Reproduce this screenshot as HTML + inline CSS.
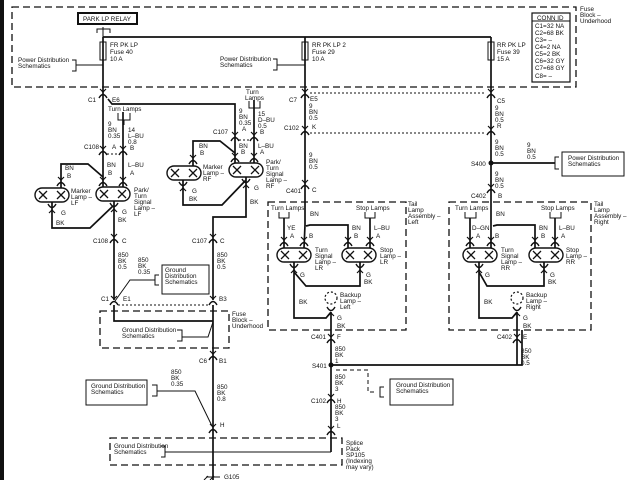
<!DOCTYPE html>
<html><head><meta charset="utf-8"><style>
html,body{margin:0;padding:0;background:#fff;}
svg{display:block;}
text{font-family:"Liberation Sans",sans-serif;font-size:6.3px;fill:#111;}
.w{stroke:#111;stroke-width:1.7;fill:none;}
.t{stroke:#111;stroke-width:1;fill:none;}
.d{stroke:#111;stroke-width:1.3;fill:none;stroke-dasharray:7,4;}
.dt{stroke:#111;stroke-width:1;fill:none;stroke-dasharray:2,2;}
</style></head><body>
<svg width="640" height="480" viewBox="0 0 640 480" xmlns="http://www.w3.org/2000/svg">
<defs>
<g id="cn"><path d="M-4,3 Q0,-4 4,3" stroke="#111" stroke-width="1.4" fill="none"/><path d="M-3,-6 L0,-3 L3,-6" stroke="#111" stroke-width="1.2" fill="none"/></g>
<g id="lamp"><rect x="0" y="0" width="34" height="14" rx="7" stroke="#111" stroke-width="1.4" fill="#fff"/><path d="M4,3 L12,11 M12,3 L4,11 M22,3 L30,11 M30,3 L22,11" stroke="#111" stroke-width="1.3"/></g>
</defs>
<rect x="0" y="0" width="4" height="480" fill="#111"/>
<path class="d" d="M12,7 H576 V87 H12 Z"/>
<rect x="78" y="13" width="59" height="11" fill="#fff" stroke="#111" stroke-width="2"/>
<text x="83" y="21">PARK LP RELAY</text>
<path class="t" d="M97,33 V29 H110 V33 M103,27 V37"/>
<path class="w" d="M103,37 H491"/>
<rect x="100" y="42" width="6" height="18" class="t"/>
<rect x="302" y="42" width="6" height="18" class="t"/>
<rect x="488" y="42" width="6" height="18" class="t"/>
<text x="110" y="47">FR PK LP</text><text x="110" y="54">Fuse 40</text><text x="110" y="61">10 A</text>
<text x="312" y="47">RR PK LP 2</text><text x="312" y="54">Fuse 29</text><text x="312" y="61">10 A</text>
<text x="497" y="47">RR PK LP</text><text x="497" y="54">Fuse 39</text><text x="497" y="61">15 A</text>
<text x="18" y="62">Power Distribution</text><text x="18" y="68">Schematics</text>
<path class="t" d="M72,60 H76 V71 H72 M76,65 H103"/>
<text x="220" y="61">Power Distribution</text><text x="220" y="67">Schematics</text>
<path class="t" d="M273,59 H277 V70 H273 M277,65 H305"/>
<rect x="532" y="13" width="38" height="69" fill="#fff" stroke="#111" stroke-width="1.2"/>
<path class="t" d="M532,21 H570"/>
<text x="537" y="20">CONN ID</text>
<text x="535" y="28">C1=32 NA</text><text x="535" y="35">C2=68 BK</text><text x="535" y="42">C3= –</text><text x="535" y="49">C4=2 NA</text><text x="535" y="56">C5=2 BK</text><text x="535" y="63">C6=32 GY</text><text x="535" y="70">C7=68 GY</text><text x="535" y="78">C8= –</text>
<text x="580" y="11">Fuse</text><text x="580" y="17">Block –</text><text x="580" y="23">Underhood</text>
<path class="w" d="M103,37 V190 M108,99 L112,104 H235 V165 M123,112 V188 M254,100 V165"/>
<use href="#cn" x="103" y="95"/><text x="88" y="102">C1</text><text x="112" y="102">E6</text>
<text x="108" y="111">Turn Lamps</text><path class="t" d="M118,113 V120 H130 V113 M124,120 V125"/>
<text x="108" y="126">9</text><text x="108" y="132">BN</text><text x="108" y="138">0.35</text><text x="128" y="132">14</text><text x="128" y="138">L–BU</text><text x="128" y="144">0.8</text><text x="130" y="150">B</text><text x="112" y="149">A</text>
<use href="#cn" x="103" y="152"/><use href="#cn" x="123" y="152"/><path class="dt" d="M107,154 H119"/>
<text x="84" y="149">C108</text>
<text x="107" y="167">BN</text><text x="108" y="175">B</text><text x="128" y="167">L–BU</text><text x="130" y="175">A</text>
<use href="#cn" x="103" y="183"/><use href="#cn" x="123" y="183"/>
<use href="#lamp" x="96" y="187"/>
<text x="134" y="192">Park/</text><text x="134" y="198">Turn</text><text x="134" y="204">Signal</text><text x="134" y="210">Lamp –</text><text x="134" y="216">LF</text>
<use href="#lamp" x="35" y="188"/><text x="71" y="193">Marker</text><text x="71" y="199">Lamp –</text><text x="71" y="205">LF</text>
<path class="w" d="M61,188 V164 H88 L103,177 M52,202 V228 H90 L113,206 M114,201 V300"/>
<use href="#cn" x="61" y="183"/><text x="65" y="170">BN</text><text x="67" y="178">B</text>
<use href="#cn" transform="translate(52,207) scale(1,-1)"/><text x="61" y="215">G</text><text x="56" y="225">BK</text>
<use href="#cn" transform="translate(114,206) scale(1,-1)"/><text x="122" y="214">G</text><text x="118" y="222">BK</text>
<use href="#cn" x="114" y="240"/><text x="93" y="243">C108</text><text x="122" y="243">C</text>
<text x="118" y="257">850</text><text x="118" y="263">BK</text><text x="118" y="269">0.5</text>
<text x="138" y="262">850</text><text x="138" y="268">BK</text><text x="138" y="274">0.35</text>
<text x="246" y="94">Turn</text><text x="245" y="100">Lamps</text><path class="t" d="M249,101 V108 H260 V101"/>
<text x="239" y="113">9</text><text x="239" y="119">BN</text><text x="239" y="125">0.35</text><text x="242" y="131">A</text>
<text x="258" y="116">15</text><text x="258" y="122">D–BU</text><text x="258" y="128">0.5</text><text x="260" y="134">B</text>
<use href="#cn" x="235" y="138"/><use href="#cn" x="254" y="138"/><path class="dt" d="M239,140 H250"/><text x="213" y="134">C107</text>
<text x="239" y="148">BN</text><text x="241" y="154">B</text><text x="258" y="148">L–BU</text><text x="260" y="154">A</text>
<use href="#cn" x="235" y="159"/><use href="#cn" x="254" y="159"/>
<use href="#lamp" x="229" y="163"/>
<text x="266" y="164">Park/</text><text x="266" y="170">Turn</text><text x="266" y="176">Signal</text><text x="266" y="182">Lamp –</text><text x="266" y="188">RF</text>
<use href="#lamp" x="167" y="166"/><text x="203" y="169">Marker</text><text x="203" y="175">Lamp –</text><text x="203" y="181">RF</text>
<path class="w" d="M193,166 V141 H220 L235,153 M183,180 V205 H222 L246,180 M246,177 V217 H213 V300"/>
<use href="#cn" x="193" y="161"/><text x="199" y="148">BN</text><text x="200" y="155">B</text>
<use href="#cn" transform="translate(183,185) scale(1,-1)"/><text x="192" y="193">G</text><text x="189" y="201">BK</text>
<use href="#cn" transform="translate(246,182) scale(1,-1)"/><text x="254" y="190">G</text><text x="250" y="204">BK</text>
<use href="#cn" x="213" y="240"/><text x="192" y="243">C107</text><text x="220" y="243">C</text>
<text x="217" y="257">850</text><text x="217" y="263">BK</text><text x="217" y="269">0.5</text>
<rect x="162" y="265" width="47" height="29" class="t"/>
<text x="165" y="272">Ground</text><text x="165" y="278">Distribution</text><text x="165" y="284">Schematics</text>
<path class="t" d="M159,275 H155 V285 H159 M155,280 H130 L115,301"/>
<use href="#cn" x="114" y="302"/><use href="#cn" x="213" y="302"/><path class="dt" d="M118,305 H209"/>
<text x="101" y="301">C1</text><text x="123" y="301">E1</text><text x="219" y="301">B3</text>
<path class="d" d="M100,311 H229 V348 H100 Z"/>
<path class="w" d="M114,305 V321 H213 M213,305 V480"/>
<text x="122" y="332">Ground Distribution</text><text x="122" y="338">Schematics</text>
<path class="t" d="M177,330 H182 V341 H177 M182,337 H208 L213,322"/>
<text x="232" y="316">Fuse</text><text x="232" y="322">Block –</text><text x="232" y="328">Underhood</text>
<use href="#cn" x="213" y="357"/><text x="199" y="363">C6</text><text x="219" y="363">B1</text>
<text x="171" y="374">850</text><text x="171" y="380">BK</text><text x="171" y="386">0.35</text>
<text x="217" y="389">850</text><text x="217" y="395">BK</text><text x="217" y="401">0.8</text>
<rect x="86" y="380" width="61" height="25" class="t"/>
<text x="91" y="388">Ground Distribution</text><text x="91" y="394">Schematics</text>
<path class="t" d="M152,385 H157 V396 H152 M157,391 H195 L212,426"/>
<use href="#cn" x="213" y="430"/><text x="220" y="427">H</text>
<path class="d" d="M110,438 H342 V465 H110 Z"/>
<text x="114" y="448">Ground Distribution</text><text x="114" y="454">Schematics</text>
<path class="t" d="M161,446 H165 V457 H161 M165,452 H331"/>
<text x="346" y="445">Splice</text><text x="346" y="451">Pack</text><text x="346" y="457">SP105</text><text x="346" y="463">(Indexing</text><text x="346" y="469">may vary)</text>
<path class="t" d="M206,477 H220 M204,480 L208,476 M210,480 L214,476"/><text x="224" y="479">G105</text>
<path class="w" d="M305,37 V202 M491,37 V202"/>
<use href="#cn" x="305" y="95"/><use href="#cn" x="491" y="95"/><path class="dt" d="M310,93 H486"/>
<text x="289" y="102">C7</text><text x="310" y="101">E5</text><text x="309" y="108">9</text><text x="309" y="114">BN</text><text x="309" y="120">0.5</text>
<text x="497" y="103">C5</text><text x="495" y="110">9</text><text x="495" y="116">BN</text><text x="495" y="122">0.5</text><text x="497" y="128">R</text>
<use href="#cn" x="305" y="132"/><use href="#cn" x="491" y="132"/><path class="dt" d="M310,133 H486"/>
<text x="284" y="130">C102</text><text x="312" y="129">K</text>
<text x="309" y="157">9</text><text x="309" y="163">BN</text><text x="309" y="169">0.5</text>
<use href="#cn" x="305" y="186"/><text x="286" y="193">C401</text><text x="312" y="192">C</text>
<text x="495" y="144">9</text><text x="495" y="150">BN</text><text x="495" y="156">0.5</text>
<circle cx="491" cy="163" r="2.5" fill="#111"/><text x="471" y="166">S400</text>
<path class="w" d="M491,163 H555"/><text x="527" y="147">9</text><text x="527" y="153">BN</text><text x="527" y="159">0.5</text>
<path class="t" d="M559,157 H555 V169 H559"/><rect x="562" y="152" width="62" height="24" class="t"/>
<text x="568" y="160">Power Distribution</text><text x="568" y="166">Schematics</text>
<text x="495" y="176">9</text><text x="495" y="182">BN</text><text x="495" y="188">0.5</text>
<use href="#cn" x="491" y="190"/><text x="471" y="198">C402</text><text x="498" y="198">B</text>
<path class="d" d="M268,202 H406 V330 H268 Z"/>
<text x="408" y="206">Tail</text><text x="408" y="212">Lamp</text><text x="408" y="218">Assembly –</text><text x="408" y="224">Left</text>
<text x="271" y="210">Turn Lamps</text><path class="t" d="M279,212 V218 H289 V212"/>
<text x="356" y="210">Stop Lamps</text><path class="t" d="M365,212 V218 H375 V212"/>
<text x="310" y="216">BN</text>
<path class="w" d="M284,218 V248 M305,202 V225 L304,248 M306,226 L310,225 H348 V248 M370,218 V248"/>
<text x="287" y="230">YE</text><text x="290" y="238">A</text><text x="309" y="238">B</text>
<text x="352" y="230">BN</text><text x="354" y="238">B</text><text x="374" y="230">L–BU</text><text x="376" y="238">A</text>
<use href="#cn" x="284" y="243"/><use href="#cn" x="304" y="243"/><use href="#cn" x="348" y="243"/><use href="#cn" x="370" y="243"/>
<use href="#lamp" x="277" y="248"/><use href="#lamp" x="342" y="248"/>
<text x="315" y="252">Turn</text><text x="315" y="258">Signal</text><text x="315" y="264">Lamp –</text><text x="315" y="270">LR</text>
<text x="380" y="252">Stop</text><text x="380" y="258">Lamp –</text><text x="380" y="264">LR</text>
<path class="w" d="M294,262 V318 H326 L331,312 M360,262 V286 H306 L294,272 M331,312 V452"/>
<use href="#cn" transform="translate(294,267) scale(1,-1)"/><use href="#cn" transform="translate(360,267) scale(1,-1)"/>
<text x="300" y="277">G</text><text x="366" y="277">G</text><text x="364" y="284">BK</text><text x="299" y="304">BK</text>
<circle cx="331" cy="298" r="6" fill="none" stroke="#111" stroke-width="1.2" stroke-dasharray="2,2"/>
<use href="#cn" transform="translate(331,310) scale(1,-1)"/>
<text x="340" y="297">Backup</text><text x="340" y="303">Lamp –</text><text x="340" y="309">Left</text>
<text x="337" y="320">G</text><text x="337" y="328">BK</text>
<use href="#cn" x="331" y="340"/><text x="311" y="339">C401</text><text x="337" y="339">F</text>
<text x="335" y="351">850</text><text x="335" y="357">BK</text><text x="335" y="363">1</text>
<circle cx="331" cy="365" r="2.5" fill="#111"/><text x="312" y="368">S401</text>
<path class="w" d="M331,365 H522 V330"/>
<path class="t" d="M336,370 H368 V392 H376" stroke-dasharray="4,3"/>
<path class="t" d="M384,387 H380 V397 H384"/><rect x="390" y="379" width="63" height="26" class="t"/>
<text x="396" y="387">Ground Distribution</text><text x="396" y="393">Schematics</text>
<text x="335" y="379">850</text><text x="335" y="385">BK</text><text x="335" y="391">3</text>
<use href="#cn" x="331" y="400"/><text x="311" y="403">C102</text><text x="337" y="403">H</text>
<text x="335" y="409">850</text><text x="335" y="415">BK</text><text x="335" y="421">3</text><text x="337" y="428">L</text>
<use href="#cn" x="331" y="432"/>
<path class="d" d="M449,202 H591 V330 H449 Z"/>
<text x="594" y="206">Tail</text><text x="594" y="212">Lamp</text><text x="594" y="218">Assembly –</text><text x="594" y="224">Right</text>
<text x="455" y="210">Turn Lamps</text><path class="t" d="M465,212 V218 H476 V212"/>
<text x="541" y="210">Stop Lamps</text><path class="t" d="M550,212 V218 H561 V212"/>
<text x="496" y="216">BN</text>
<path class="w" d="M470,218 V248 M491,202 V248 M493,226 L497,225 H535 V248 M555,218 V248"/>
<text x="472" y="230">D–GN</text><text x="476" y="238">A</text><text x="495" y="238">B</text>
<text x="539" y="230">BN</text><text x="541" y="238">B</text><text x="559" y="230">L–BU</text><text x="561" y="238">A</text>
<use href="#cn" x="470" y="243"/><use href="#cn" x="491" y="243"/><use href="#cn" x="535" y="243"/><use href="#cn" x="555" y="243"/>
<use href="#lamp" x="463" y="248"/><use href="#lamp" x="529" y="248"/>
<text x="501" y="252">Turn</text><text x="501" y="258">Signal</text><text x="501" y="264">Lamp –</text><text x="501" y="270">RR</text>
<text x="566" y="252">Stop</text><text x="566" y="258">Lamp –</text><text x="566" y="264">RR</text>
<path class="w" d="M479,262 V318 H512 L517,312 M544,262 V286 H487 L479,272 M517,312 V365"/>
<use href="#cn" transform="translate(479,267) scale(1,-1)"/><use href="#cn" transform="translate(544,267) scale(1,-1)"/>
<text x="485" y="277">G</text><text x="550" y="277">G</text><text x="548" y="284">BK</text><text x="484" y="304">BK</text>
<circle cx="517" cy="298" r="6" fill="none" stroke="#111" stroke-width="1.2" stroke-dasharray="2,2"/>
<use href="#cn" transform="translate(517,310) scale(1,-1)"/>
<text x="526" y="297">Backup</text><text x="526" y="303">Lamp –</text><text x="526" y="309">Right</text>
<text x="523" y="320">G</text><text x="523" y="328">BK</text>
<use href="#cn" x="517" y="340"/><text x="497" y="339">C402</text><text x="523" y="339">E</text>
<text x="521" y="353">850</text><text x="521" y="359">BK</text><text x="521" y="365">0.5</text>
</svg>
</body></html>
